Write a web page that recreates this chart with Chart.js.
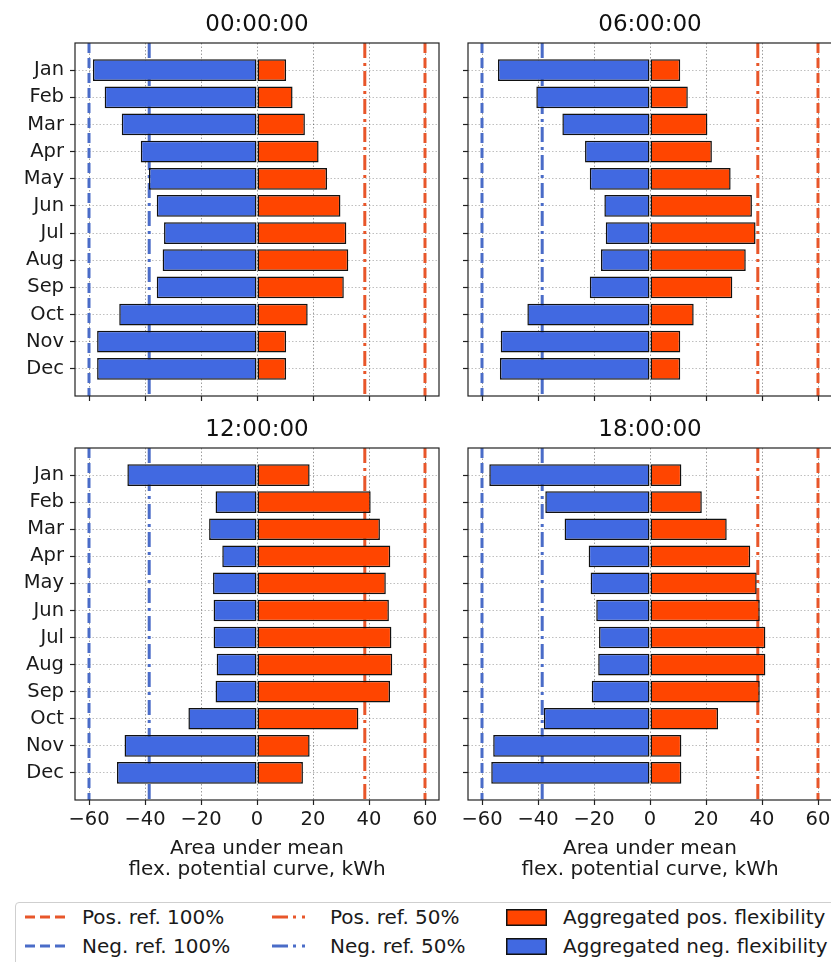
<!DOCTYPE html>
<html>
<head>
<meta charset="utf-8">
<script src="https://cdn.jsdelivr.net/npm/chart.js@4.4.1/dist/chart.umd.min.js"></script>
<style>
  html, body { margin:0; padding:0; background:#fff; width:831px; height:962px; overflow:hidden; }
  body { position:relative; font-family:'DejaVu Sans', sans-serif; color:#1a1a1a; }
  canvas { position:absolute; }
  #legend { position:absolute; left:15px; top:902px; width:840px; height:80px; border:1px solid #cfcfcf; border-radius:4px; background:#fff; }
  .lt { position:absolute; font-size:20px; line-height:20px; white-space:nowrap; }
  .ls { position:absolute; }
</style>
</head>
<body>
<canvas id="c00" width="450" height="402" style="left:0px;top:0px"></canvas>
<canvas id="c06" width="420" height="402" style="left:420px;top:0px"></canvas>
<canvas id="c12" width="450" height="480" style="left:0px;top:400px"></canvas>
<canvas id="c18" width="420" height="480" style="left:420px;top:400px"></canvas>
<div id="legend"></div>
<script>
// ---------------- data ----------------
const months = ['Jan','Feb','Mar','Apr','May','Jun','Jul','Aug','Sep','Oct','Nov','Dec'];
const xTicks = [-60,-40,-20,0,20,40,60];
const panelTitles = ['00:00:00','06:00:00','12:00:00','18:00:00'];
const xTitle = ['Area under mean','flex. potential curve, kWh'];

const pos00 = [10.4,12.7,17.1,22.0,25.0,29.8,31.9,32.6,31.0,18.1,10.4,10.4];
const neg00 = [-58.6,-54.4,-48.3,-41.5,-38.6,-35.8,-33.2,-33.7,-35.8,-49.2,-57.1,-57.1];
const pos06 = [10.8,13.5,20.5,22.1,28.8,36.4,37.7,34.2,29.4,15.6,10.8,10.8];
const neg06 = [-54.3,-40.6,-31.3,-23.2,-21.5,-16.3,-15.8,-17.5,-21.5,-43.8,-53.3,-53.6];
const pos12 = [18.8,40.6,43.9,47.6,46.0,47.1,48.0,48.3,47.5,36.2,18.8,16.4];
const neg12 = [-46.3,-14.8,-17.1,-12.4,-15.7,-15.5,-15.5,-14.4,-14.8,-24.5,-47.3,-50.0];
const pos18 = [11.2,18.5,27.4,35.8,38.1,39.2,41.2,41.2,39.2,24.3,11.2,11.2];
const neg18 = [-57.4,-37.4,-30.5,-21.9,-21.2,-19.2,-18.2,-18.5,-20.8,-37.9,-56.0,-56.7];

const posRef100 = 60;
const posRef50 = 38.5;
const negRef100 = -60;
const negRef50 = -38.5;

const legendLabels = ['Pos. ref. 100%','Neg. ref. 100%','Pos. ref. 50%','Neg. ref. 50%','Aggregated pos. flexibility','Aggregated neg. flexibility'];

// ---------------- styles ----------------
const POS_FILL = '#FF4500', NEG_FILL = '#4169E1';
const POS_LINE = '#E8562A', NEG_LINE = '#4A6CC8';
const DASH = [10,5], DASHDOT = [15,5,3,5];

Chart.defaults.font.family = "'DejaVu Sans', sans-serif";
Chart.defaults.color = '#1a1a1a';

const framePlugin = {
  id: 'frame',
  afterDatasetsDraw(chart) {
    const {ctx, chartArea: a} = chart;
    ctx.save();
    ctx.strokeStyle = '#222';
    ctx.lineWidth = 1.2;
    ctx.strokeRect(a.left, a.top, a.right - a.left, a.bottom - a.top);
    ctx.restore();
  }
};

function refLine(v, color, dash) {
  return {
    type: 'line',
    data: [{x: v, y: -1}, {x: v, y: 12}],
    borderColor: color, borderWidth: 3, borderDash: dash,
    pointRadius: 0, tension: 0, order: 2
  };
}

function makePanel(id, title, pos, neg, opt) {
  const ctx = document.getElementById(id);
  return new Chart(ctx, {
    type: 'bar',
    data: {
      datasets: [
        { label: legendLabels[4], data: pos.map((v,i)=>({x:v, y:i})), backgroundColor: POS_FILL,
          borderColor: '#111', borderWidth: 1.5, borderSkipped: false, grouped: false,
          barPercentage: 0.8, categoryPercentage: 1.0, order: 0 },
        { label: legendLabels[5], data: neg.map((v,i)=>({x:v, y:i})), backgroundColor: NEG_FILL,
          borderColor: '#111', borderWidth: 1.5, borderSkipped: false, grouped: false,
          barPercentage: 0.8, categoryPercentage: 1.0, order: 0 },
        refLine(posRef100, POS_LINE, DASH),
        refLine(negRef100, NEG_LINE, DASH),
        refLine(posRef50, POS_LINE, DASHDOT),
        refLine(negRef50, NEG_LINE, DASHDOT)
      ]
    },
    options: {
      indexAxis: 'y',
      responsive: false,
      animation: false,
      devicePixelRatio: 1,
      layout: { padding: { left: 0, top: 0, right: opt.padRight, bottom: 0 } },
      plugins: {
        legend: { display: false },
        tooltip: { enabled: false },
        title: {
          display: true, text: title, fullSize: false, color: '#111',
          font: { size: 23, weight: 'normal', lineHeight: 1.2 },
          padding: { top: opt.titleTop, bottom: opt.titleBottom }
        }
      },
      scales: {
        x: {
          type: 'linear', min: -65, max: 65, offset: false,
          afterBuildTicks: s => { s.ticks = xTicks.map(v => ({value: v})); },
          afterFit: s => { s.height = opt.xH; s.paddingLeft = 0; s.paddingRight = 0; },
          grid: { offset: false, color: 'rgba(0,0,0,0.38)', lineWidth: 1, tickLength: 5, tickColor: '#222', tickWidth: 1.2, tickBorderDash: [] },
          border: { display: false, dash: [1.5,2] },
          ticks: { display: opt.showX, padding: 3, font: { size: 19.5 }, color: '#1a1a1a',
                   callback: v => v < 0 ? '\u2212' + (-v) : String(v) },
          title: { display: opt.showX, text: xTitle, color: '#1a1a1a',
                   font: { size: 20, lineHeight: 1.035 }, padding: { top: 0, bottom: 0 } }
        },
        y: {
          type: 'linear', min: -1, max: 12, reverse: true, offset: false,
          afterBuildTicks: s => { s.ticks = months.map((m,i) => ({value: i})); },
          afterFit: s => { s.width = opt.yW; s.paddingTop = 0; s.paddingBottom = 0; },
          grid: { offset: false, color: 'rgba(0,0,0,0.25)', lineWidth: 1, tickLength: 5, tickColor: '#222', tickWidth: 1.2, tickBorderDash: [] },
          border: { display: false, dash: [1.5,2] },
          ticks: { display: opt.showY, padding: 6, font: { size: 19.5 }, color: '#1a1a1a',
                   callback: v => months[v] }
        }
      }
    },
    plugins: [framePlugin]
  });
}

makePanel('c00', panelTitles[0], pos00, neg00, {padRight: 11, yW: 75, xH: 6, showX: false, showY: true, titleTop: 11.2, titleBottom: 4.2});
makePanel('c06', panelTitles[1], pos06, neg06, {padRight: 8, yW: 48, xH: 6, showX: false, showY: false, titleTop: 11.2, titleBottom: 4.2});
makePanel('c12', panelTitles[2], pos12, neg12, {padRight: 11, yW: 75, xH: 80, showX: true, showY: true, titleTop: 16.2, titleBottom: 4.2});
makePanel('c18', panelTitles[3], pos18, neg18, {padRight: 8, yW: 48, xH: 80, showX: true, showY: false, titleTop: 16.2, titleBottom: 4.2});

// ---------------- legend (HTML) ----------------
(function buildLegend() {
  const lg = document.getElementById('legend');
  const L0 = 16, T0 = 903; // legend box origin (page coords) incl. border
  const rows = [917, 946];
  function svgLine(x1, x2, y, color, dash) {
    const w = x2 - x1;
    return `<svg class="ls" style="left:${x1-L0}px;top:${y-T0-3}px" width="${w}" height="6"><line x1="0" y1="3" x2="${w}" y2="3" stroke="${color}" stroke-width="3" stroke-dasharray="${dash}"/></svg>`;
  }
  function patch(x1, x2, y, color) {
    return `<svg class="ls" style="left:${x1-L0}px;top:${y-T0-8.5}px" width="${x2-x1}" height="17"><rect x="0.75" y="0.75" width="${x2-x1-1.5}" height="15.5" fill="${color}" stroke="#111" stroke-width="1.5"/></svg>`;
  }
  function text(x, y, s) {
    return `<div class="lt" style="left:${x-L0}px;top:${y-T0-9.6}px">${s}</div>`;
  }
  let h = '';
  h += svgLine(25, 67, rows[0], POS_LINE, '10 5');
  h += text(82, rows[0], legendLabels[0]);
  h += svgLine(25, 67, rows[1], NEG_LINE, '10 5');
  h += text(82, rows[1], legendLabels[1]);
  h += svgLine(272, 312, rows[0], POS_LINE, '16 5 3 6 3 8');
  h += text(330, rows[0], legendLabels[2]);
  h += svgLine(272, 312, rows[1], NEG_LINE, '16 5 3 6 3 8');
  h += text(330, rows[1], legendLabels[3]);
  h += patch(506, 547, rows[0], POS_FILL);
  h += text(563, rows[0], legendLabels[4]);
  h += patch(506, 547, rows[1], NEG_FILL);
  h += text(563, rows[1], legendLabels[5]);
  lg.innerHTML = h;
})();
</script>
</body>
</html>
